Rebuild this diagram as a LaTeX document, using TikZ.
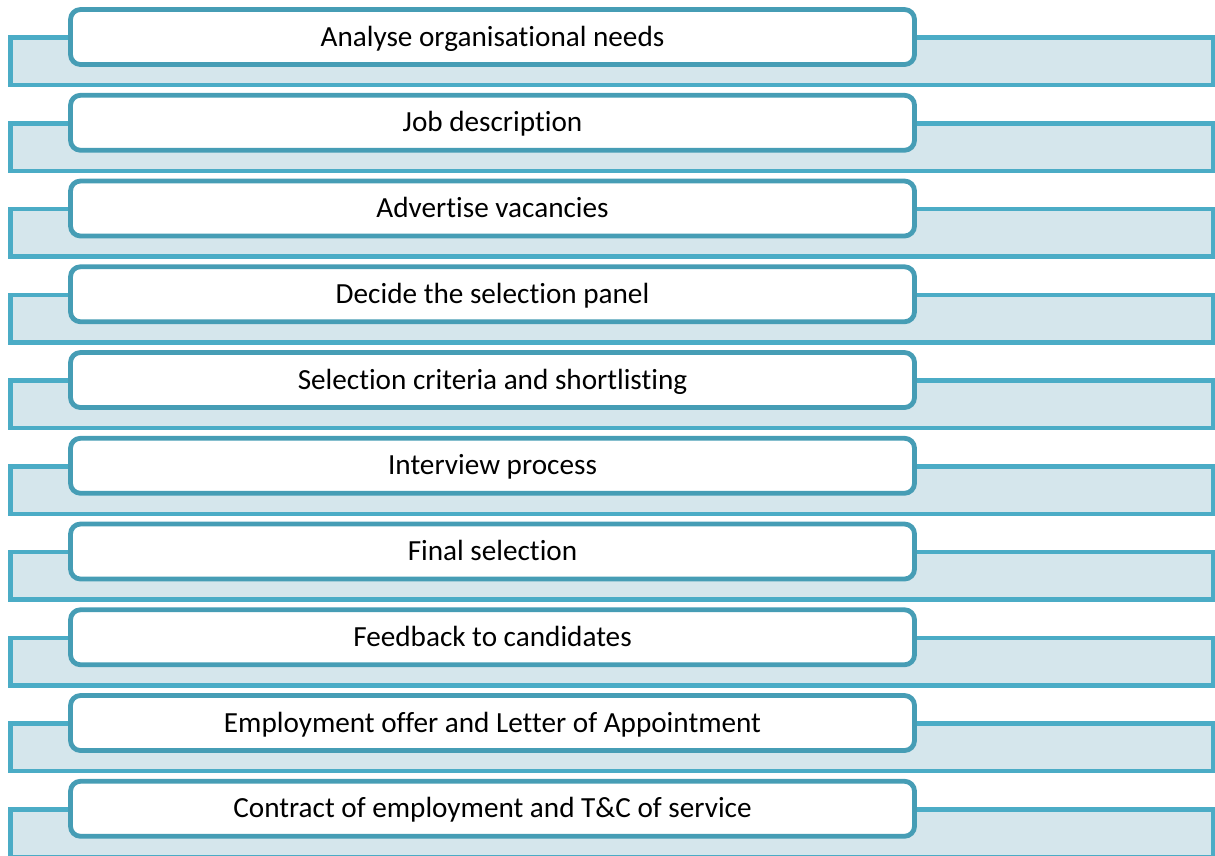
\documentclass[tikz,border=0pt]{standalone}
\usepackage{fontspec}
\setmainfont[Ligatures={NoCommon}]{Carlito}
\definecolor{bgfill}{HTML}{D5E6EC}
\definecolor{bgline}{HTML}{4BACC6}
\definecolor{boxline}{HTML}{469DB5}
\tikzset{
  band/.style={draw=bgline, fill=bgfill, line width=4.5pt, minimum width=1202.5pt, minimum height=47.5pt, inner sep=0pt, outer sep=0pt},
  stepbox/.style={draw=boxline, fill=white, line width=4.8pt, rounded corners=10pt, minimum width=844pt, minimum height=55pt, inner sep=0pt, outer sep=0pt, text height=20pt, text depth=2pt, font=\fontsize{29.2}{35}\selectfont, text=black}
}
\begin{document}
\begin{tikzpicture}[x=1pt,y=-1pt]
\useasboundingbox (0,0) rectangle (1215,855);
\clip (0,0) rectangle (1215,855);
\foreach \t [count=\i from 0] in {Analyse organisational needs, Job description, Advertise vacancies, Decide the selection panel, Selection criteria and shortlisting, Interview process, Final selection, Feedback to candidates, Employment offer and Letter of Appointment, Contract of employment and T\&C of service}{
  \node[band] (bg\i) at (611.75, 61.25+\i*85.75) {};
  \node[stepbox] (box\i) at (492.5, 37+\i*85.75) {\t};
}
\end{tikzpicture}
\end{document}
